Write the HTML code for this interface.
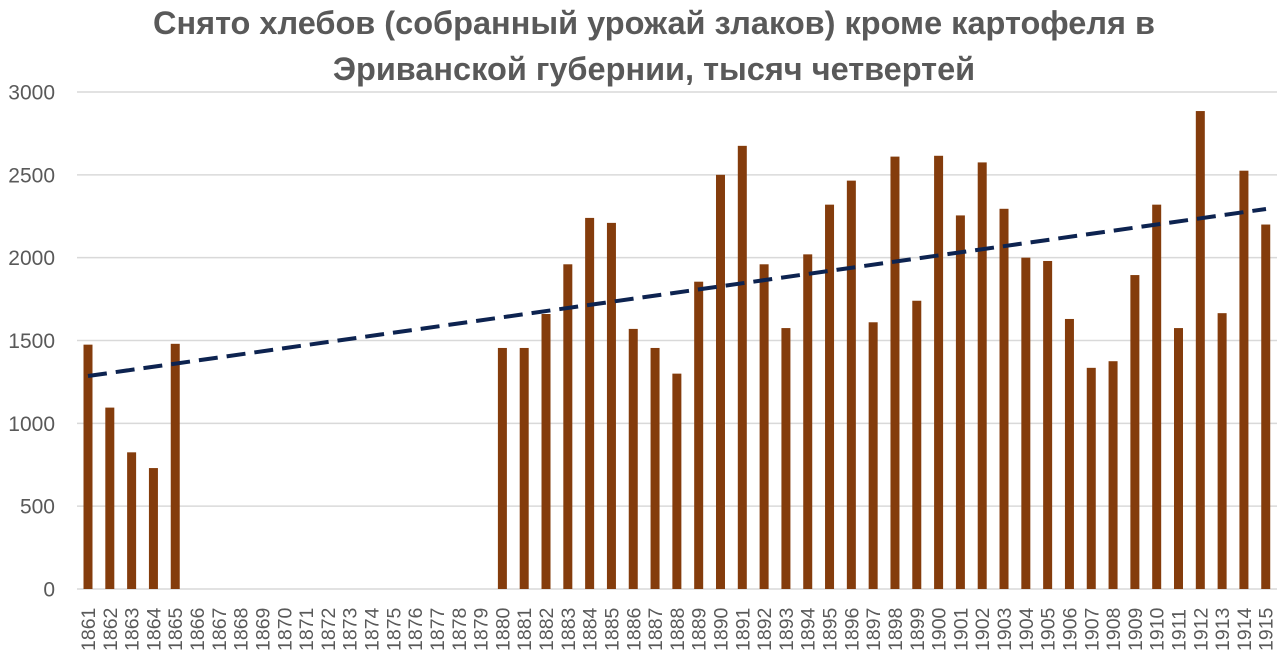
<!DOCTYPE html>
<html><head><meta charset="utf-8"><style>
body{margin:0;background:#fff;width:1280px;height:656px;overflow:hidden}
svg{display:block;font-family:"Liberation Sans",sans-serif}
</style></head><body>
<svg id="s" width="1280" height="656" xmlns="http://www.w3.org/2000/svg">
<text x="654" y="34" text-anchor="middle" font-size="32.5" font-weight="bold" fill="#595959">Снято хлебов (собранный урожай злаков) кроме картофеля в</text>
<text x="654" y="80" text-anchor="middle" font-size="32.5" font-weight="bold" fill="#595959">Эриванской губернии, тысяч четвертей</text>
<g id="g"></g>
</svg>
<script>
var g=document.getElementById('g'),h='';
var y0=589,k=497/3000;
for(var v=0;v<=3000;v+=500){var y=y0-v*k;
h+='<line x1="77" x2="1277" y1="'+y+'" y2="'+y+'" stroke="#d9d9d9" stroke-width="1.5"/>';
h+='<text x="55" y="'+(y+7.5)+'" text-anchor="end" font-size="21" fill="#595959">'+v+'</text>';}
var d={1861:1475,1862:1095,1863:825,1864:730,1865:1480,1880:1455,1881:1455,1882:1660,1883:1960,1884:2240,1885:2210,1886:1570,1887:1455,1888:1300,1889:1855,1890:2500,1891:2675,1892:1960,1893:1575,1894:2020,1895:2320,1896:2465,1897:1610,1898:2610,1899:1740,1900:2615,1901:2255,1902:2575,1903:2295,1904:2000,1905:1980,1906:1630,1907:1335,1908:1375,1909:1895,1910:2320,1911:1575,1912:2885,1913:1665,1914:2525,1915:2200};
for(var i=0;i<55;i++){var yr=1861+i,cx=88+i*21.81;
if(d[yr]){var hh=d[yr]*k;h+='<rect x="'+(cx-4.5)+'" y="'+(y0-hh)+'" width="9" height="'+hh+'" fill="#843c0c"/>';}
h+='<text transform="translate('+(cx+7)+',651) rotate(-90)" font-size="19.5" fill="#595959">'+yr+'</text>';}
h+='<line x1="88" y1="376" x2="1266" y2="209" stroke="#0d2350" stroke-width="4" stroke-dasharray="19,9"/>';
g.innerHTML=h;
</script>
</body></html>
